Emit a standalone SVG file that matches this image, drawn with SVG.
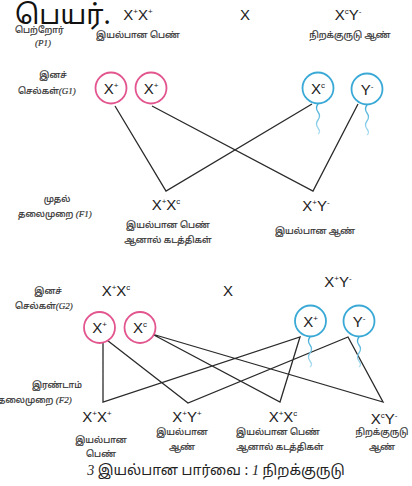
<svg xmlns="http://www.w3.org/2000/svg" width="412" height="486" viewBox="0 0 412 486">
  <defs>
    <linearGradient id="tailFade" x1="0" y1="0" x2="0" y2="1">
      <stop offset="0" stop-color="#3aa9d6"/>
      <stop offset="1" stop-color="#b3e0f2"/>
    </linearGradient>
    <path id="tail" d="M0 0 q-3 4 0 8 t0 8 t0 8 t0 6" fill="none" stroke="url(#tailFade)" stroke-width="1.3"/>
  </defs>
  <style>
    .geno { font-family: "Liberation Sans", Arial, sans-serif; font-size: 15px; fill: #222; text-anchor: middle; }
    .sup { font-size: 8px; }
    .ta { font-family: "Noto Sans Tamil", "Lohit Tamil", "Noto Sans", sans-serif; font-size: 9px; fill: #333; stroke: #333; stroke-width: 0.2; text-anchor: middle; }
    .lbl { font-family: "Noto Sans Tamil", "Lohit Tamil", "Noto Sans", sans-serif; font-size: 9px; fill: #333; stroke: #333; stroke-width: 0.2; }
    .it { font-family: "Liberation Serif", serif; font-style: italic; }
    .egg { fill: #fff; stroke: #e2558f; stroke-width: 1.8; }
    .sperm { fill: #fff; stroke: #3aa9d6; stroke-width: 1.8; }
    .cell { font-family: "Liberation Sans", Arial, sans-serif; font-size: 15px; fill: #222; text-anchor: middle; }
    .link { stroke: #2a2a2a; stroke-width: 1.3; fill: none; }
  </style>

  <!-- title -->
  <text x="15" y="24" font-family="'Noto Sans Tamil', 'Lohit Tamil', 'Noto Sans', sans-serif" font-size="27" fill="#111">பெயர்.</text>

  <!-- row labels -->
  <g id="row-labels">
    <text class="lbl" x="15" y="33" fill="#4a5a78" stroke="#4a5a78">பெற்றோர்</text>
    <text class="lbl it" x="35" y="46" font-size="10">(P1)</text>
    <text class="ta" x="53" y="78">இனச்</text>
    <text class="lbl" x="18" y="94">செல்கள்<tspan class="it">(G1)</tspan></text>
    <text class="ta" x="57" y="202">முதல்</text>
    <text class="lbl" x="18" y="217">தலைமுறை <tspan class="it">(F1)</tspan></text>
    <text class="ta" x="48" y="294">இனச்</text>
    <text class="lbl" x="15" y="309">செல்கள்<tspan class="it">(G2)</tspan></text>
    <text class="ta" x="57" y="388">இரண்டாம்</text>
    <text class="lbl" x="-2" y="403">தலைமுறை <tspan class="it">(F2)</tspan></text>
  </g>

  <!-- parents -->
  <g id="p1-female">
    <text class="geno" x="138" y="20">X<tspan class="sup" dy="-6">+</tspan><tspan dy="6">X</tspan><tspan class="sup" dy="-6">+</tspan></text>
    <text class="ta" x="138" y="38">இயல்பான பெண்</text>
  </g>
  <g id="p1-cross"><text class="geno" x="245" y="20">X</text></g>
  <g id="p1-male">
    <text class="geno" x="348" y="20">X<tspan class="sup" dy="-6">c</tspan><tspan dy="6">Y</tspan><tspan class="sup" dy="-6">-</tspan></text>
    <text class="ta" x="350" y="38">நிறக்குருடு ஆண்</text>
  </g>

  <!-- connectors -->
  <g id="connectors">
    <polyline class="link" points="115,106 166,191 312,104"/>
    <polyline class="link" points="152,106 313,191 358,104"/>
    <polyline class="link" points="103,337 103,402 300,337 280,402 152,334 383,402 348,337 188,403 103,337"/>
  </g>

  <!-- G1 gametes -->
  <g id="g1-egg1"><circle class="egg" cx="111" cy="88" r="15.5"/><text class="cell" x="111" y="94">X<tspan class="sup" dy="-6">+</tspan></text></g>
  <g id="g1-egg2"><circle class="egg" cx="151" cy="88" r="15.5"/><text class="cell" x="151" y="94">X<tspan class="sup" dy="-6">+</tspan></text></g>
  <g id="g1-sperm-xc"><use href="#tail" x="318" y="104"/><circle class="sperm" cx="318" cy="88" r="15.5"/><text class="cell" x="318" y="94">X<tspan class="sup" dy="-6">c</tspan></text></g>
  <g id="g1-sperm-y"><use href="#tail" x="367" y="105"/><circle class="sperm" cx="367" cy="89" r="15.5"/><text class="cell" x="367" y="95">Y<tspan class="sup" dy="-6">-</tspan></text></g>

  <!-- F1 -->
  <g id="f1-female">
    <text class="geno" x="166" y="210">X<tspan class="sup" dy="-6">+</tspan><tspan dy="6">X</tspan><tspan class="sup" dy="-6">c</tspan></text>
    <text class="ta" x="168" y="228">இயல்பான பெண்</text>
    <text class="ta" x="168" y="243">ஆனால் கடத்திகள்</text>
  </g>
  <g id="f1-male">
    <text class="geno" x="316" y="211">X<tspan class="sup" dy="-6">+</tspan><tspan dy="6">Y</tspan><tspan class="sup" dy="-6">-</tspan></text>
    <text class="ta" x="315" y="234">இயல்பான ஆண்</text>
  </g>

  <!-- F1 cross -->
  <g id="f1-cross-female"><text class="geno" x="116" y="296">X<tspan class="sup" dy="-6">+</tspan><tspan dy="6">X</tspan><tspan class="sup" dy="-6">c</tspan></text></g>
  <g id="f1-cross"><text class="geno" x="228" y="296">X</text></g>
  <g id="f1-cross-male"><text class="geno" x="338" y="287">X<tspan class="sup" dy="-6">+</tspan><tspan dy="6">Y</tspan><tspan class="sup" dy="-6">-</tspan></text></g>

  <!-- G2 gametes -->
  <g id="g2-egg1"><circle class="egg" cx="99.5" cy="327.5" r="15.5"/><text class="cell" x="99.5" y="333">X<tspan class="sup" dy="-6">+</tspan></text></g>
  <g id="g2-egg2"><circle class="egg" cx="140" cy="327.5" r="15.5"/><text class="cell" x="140" y="333">X<tspan class="sup" dy="-6">c</tspan></text></g>
  <g id="g2-sperm-x"><use href="#tail" x="310" y="337"/><circle class="sperm" cx="310.5" cy="321" r="15.5"/><text class="cell" x="310.5" y="327">X<tspan class="sup" dy="-6">+</tspan></text></g>
  <g id="g2-sperm-y"><use href="#tail" x="359" y="337"/><circle class="sperm" cx="359" cy="321" r="15.5"/><text class="cell" x="359" y="327">Y<tspan class="sup" dy="-6">-</tspan></text></g>

  <!-- F2 -->
  <g id="f2-xx">
    <text class="geno" x="97" y="422">X<tspan class="sup" dy="-6">+</tspan><tspan dy="6">X</tspan><tspan class="sup" dy="-6">+</tspan></text>
    <text class="ta" x="101" y="443">இயல்பான</text>
    <text class="ta" x="101" y="457">பெண்</text>
  </g>
  <g id="f2-xy">
    <text class="geno" x="187" y="422">X<tspan class="sup" dy="-6">+</tspan><tspan dy="6">Y</tspan><tspan class="sup" dy="-6">+</tspan></text>
    <text class="ta" x="182" y="435">இயல்பான</text>
    <text class="ta" x="182" y="450">ஆண்</text>
  </g>
  <g id="f2-carrier">
    <text class="geno" x="283" y="422">X<tspan class="sup" dy="-6">+</tspan><tspan dy="6">X</tspan><tspan class="sup" dy="-6">c</tspan></text>
    <text class="ta" x="278" y="435">இயல்பான பெண்</text>
    <text class="ta" x="280" y="450">ஆனால் கடத்திகள்</text>
  </g>
  <g id="f2-colourblind">
    <text class="geno" x="384" y="424">X<tspan class="sup" dy="-6">c</tspan><tspan dy="6">Y</tspan><tspan class="sup" dy="-6">-</tspan></text>
    <text class="ta" x="382" y="435">நிறக்குருடு</text>
    <text class="ta" x="382" y="450">ஆண்</text>
  </g>

  <!-- ratio -->
  <text x="216" y="475" text-anchor="middle" font-family="'Noto Sans Tamil', 'Lohit Tamil', 'Noto Sans', sans-serif" font-size="14" fill="#222"><tspan class="it">3</tspan> இயல்பான பார்வை : <tspan class="it">1</tspan> நிறக்குருடு</text>
</svg>
